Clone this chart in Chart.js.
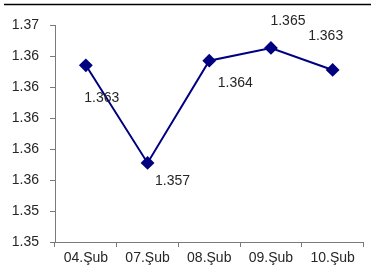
<!DOCTYPE html>
<html>
<head>
<meta charset="utf-8">
<script src="https://cdn.jsdelivr.net/npm/chart.js@4"></script>
<style>
  html, body { margin: 0; padding: 0; background: #fff; }
  #wrap { width: 371px; height: 273px; position: relative; }
</style>
</head>
<body>
<div id="wrap"><canvas id="rateChart" width="371" height="273"></canvas></div>
<script>
// chart data
var categories = ['04.Şub', '07.Şub', '08.Şub', '09.Şub', '10.Şub'];
var rates = [1.3634, 1.3571, 1.3637, 1.36452, 1.3631];
// y tick labels, bottom to top (axis runs 1.352 .. 1.366 by 0.002)
var yTickLabels = ['1.35', '1.35', '1.36', '1.36', '1.36', '1.36', '1.36', '1.37'];

// where each value label sits relative to its point (dx, dy)
var labelOffsets = [[16, 33], [25, 18], [26, 22], [17, -27], [-7, -34]];

var textColor = '#262626';
var axisColor = '#7a7a7a';

// thin black rule across the top of the picture
var topRule = {
    id: 'topRule',
    beforeDraw: function(chart) {
        var ctx = chart.ctx;
        ctx.save();
        ctx.strokeStyle = '#000';
        ctx.lineWidth = 1.5;
        ctx.beginPath();
        ctx.moveTo(4, 4.5);
        ctx.lineTo(chart.width, 4.5);
        ctx.stroke();
        ctx.restore();
    }
};

// value labels next to the markers
var valueLabels = {
    id: 'valueLabels',
    afterDatasetsDraw: function(chart) {
        var ctx = chart.ctx;
        var meta = chart.getDatasetMeta(0);
        ctx.save();
        ctx.font = '14px "Liberation Sans", Arial, sans-serif';
        ctx.fillStyle = textColor;
        ctx.textAlign = 'center';
        ctx.textBaseline = 'middle';
        meta.data.forEach(function(pt, i) {
            var v = chart.data.datasets[0].data[i];
            ctx.fillText(v.toFixed(3), pt.x + labelOffsets[i][0], pt.y + labelOffsets[i][1]);
        });
        ctx.restore();
    }
};

var ctx = document.getElementById('rateChart').getContext('2d');
var rateChart = new Chart(ctx, {
    type: 'line',
    data: {
        labels: categories,
        datasets: [{
            data: rates,
            borderColor: '#000080',
            backgroundColor: '#000080',
            borderWidth: 2,
            tension: 0,
            pointStyle: 'rectRot',
            pointRadius: 5.5,
            pointHoverRadius: 5.5
        }]
    },
    options: {
        responsive: false,
        animation: false,
        events: [],
        layout: { padding: { top: 25, right: 0, bottom: 0, left: 0 } },
        plugins: {
            legend: { display: false },
            tooltip: { enabled: false }
        },
        scales: {
            x: {
                offset: true,
                grid: {
                    offset: true,
                    drawOnChartArea: false,
                    tickLength: 5,
                    color: axisColor
                },
                border: { color: axisColor, width: 1 },
                ticks: {
                    color: textColor,
                    padding: 3,
                    maxRotation: 0,
                    font: { family: '"Liberation Sans", Arial, sans-serif', size: 14 }
                },
                afterFit: function(s) { s.height = 31; }
            },
            y: {
                min: 1.352,
                max: 1.366,
                grid: {
                    drawOnChartArea: false,
                    tickLength: 5,
                    color: axisColor
                },
                border: { color: axisColor, width: 1 },
                ticks: {
                    stepSize: 0.002,
                    color: textColor,
                    padding: 11,
                    font: { family: '"Liberation Sans", Arial, sans-serif', size: 14 },
                    callback: function(v, i) { return yTickLabels[i]; }
                },
                afterFit: function(s) { s.width = 55; }
            }
        }
    },
    plugins: [topRule, valueLabels]
});
</script>
</body>
</html>
